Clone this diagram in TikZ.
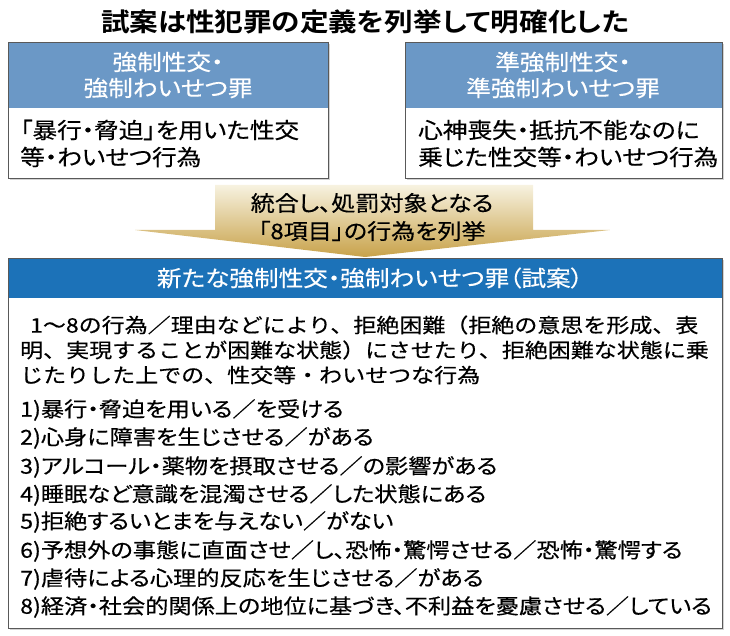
\documentclass[tikz,border=0pt]{standalone}
\usepackage{fontspec}
\setmainfont{Noto Sans CJK JP}[FakeStretch=1.12,RawFeature=+palt,FakeBold=0.4]
\newfontfamily\jpb{Noto Sans CJK JP}[FakeStretch=1.12,RawFeature=+palt,BoldFont={* Bold}]
\newfontfamily\jpn{Noto Sans CJK JP}[FakeStretch=1.15,FakeBold=0.4]
\usetikzlibrary{shadows}
\definecolor{hdrA}{HTML}{6B98C6}
\definecolor{hdrB}{HTML}{1C72B8}
\definecolor{goldT}{HTML}{F7F2E0}
\definecolor{goldB}{HTML}{C8A24A}
\tikzset{
 frame/.style={draw=black!65,line width=0.9pt,fill=white,drop shadow={shadow xshift=1.5pt,shadow yshift=-1.5pt,opacity=0.35}},
 wtxt/.style={text=white,font=\fontsize{22}{26}\selectfont,align=center},
 btxt/.style={font=\fontsize{22}{28}\selectfont,anchor=west,inner sep=0pt},
 ltxt/.style={font=\fontsize{20.7}{26}\selectfont,anchor=west,inner sep=0pt},
 ptxt/.style={font=\jpn\fontsize{20}{26}\selectfont,anchor=west,inner sep=0pt},
}
\begin{document}
\begin{tikzpicture}[x=1pt,y=-1pt]
\useasboundingbox (0,0) rectangle (730,636);
\node (title) at (365,22) {\jpb\bfseries\fontsize{25.5}{28}\selectfont 試案は性犯罪の定義を列挙して明確化した};
% left box
\node[frame,minimum width=320pt,minimum height=136pt,anchor=north west,inner sep=0pt] (lbox) at (8,42) {};
\fill[hdrA] (lbox.north west) rectangle ([yshift=-66pt]lbox.north east);
\draw[black!65,line width=0.9pt] (lbox.north west) rectangle (lbox.south east);
\node[wtxt] (lh) at (168,75) {強制性交・\\強制わいせつ罪};
\node[btxt] (lb1) at (20,130) {「暴行・脅迫」を用いた性交};
\node[btxt] (lb2) at (20,157) {等・わいせつ行為};
% right box
\node[frame,minimum width=317pt,minimum height=136pt,anchor=north west,inner sep=0pt] (rbox) at (405,42) {};
\fill[hdrA] (rbox.north west) rectangle ([yshift=-66pt]rbox.north east);
\draw[black!65,line width=0.9pt] (rbox.north west) rectangle (rbox.south east);
\node[wtxt] (rh) at (563,75) {準強制性交・\\準強制わいせつ罪};
\node[btxt] (rb1) at (418,130) {心神喪失・抵抗不能なのに};
\node[btxt] (rb2) at (418,157) {乗じた性交等・わいせつ行為};
% arrow
\shade[top color=goldT,bottom color=goldB] (215,185) -- (533,185) -- (533,230) -- (610,230) -- (365,257) -- (135,230) -- (215,230) -- cycle;
\coordinate (atip) at (365,257);
\node[font=\fontsize{21.5}{26}\selectfont] (a1) at (372,203) {統合し、処罰対象となる};
\node[font=\fontsize{21.5}{26}\selectfont] (a2) at (372,231) {「8項目」の行為を列挙};
% bottom box
\node[frame,minimum width=714pt,minimum height=370pt,anchor=north west,inner sep=0pt] (bbox) at (8,258) {};
\fill[hdrB] (bbox.north west) rectangle ([yshift=-40pt]bbox.north east);
\draw[black!65,line width=0.9pt] (bbox.north west) rectangle (bbox.south east);
\node[text=white,font=\fontsize{22}{24}\selectfont] (bh) at (370,278) {新たな強制性交・強制わいせつ罪（試案）};
\node[ptxt] (t1) at (30,325) {1〜8の行為／理由などにより、拒絶困難（拒絶の意思を形成、表};
\node[ptxt] (t2) at (20,350) {明、実現することが困難な状態）にさせたり、拒絶困難な状態に乗};
\node[ptxt] (t3) at (20,375) {じたりした上での、性交等・わいせつな行為};
\node[ltxt] (i1) at (20,410) {1)暴行・脅迫を用いる／を受ける};
\node[ltxt] (i2) at (20,438) {2)心身に障害を生じさせる／がある};
\node[ltxt] (i3) at (20,467) {3)アルコール・薬物を摂取させる／の影響がある};
\node[ltxt] (i4) at (20,495) {4)睡眠など意識を混濁させる／した状態にある};
\node[ltxt] (i5) at (20,522) {5)拒絶するいとまを与えない／がない};
\node[ltxt] (i6) at (20,551) {6)予想外の事態に直面させ／し、恐怖・驚愕させる／恐怖・驚愕する};
\node[ltxt] (i7) at (20,579) {7)虐待による心理的反応を生じさせる／がある};
\node[ltxt] (i8) at (20,607) {8)経済・社会的関係上の地位に基づき、不利益を憂慮させる／している};
\end{tikzpicture}
\end{document}
